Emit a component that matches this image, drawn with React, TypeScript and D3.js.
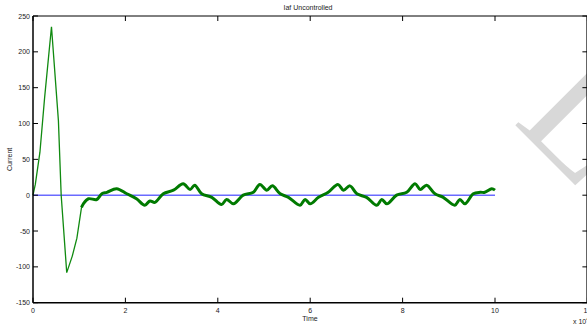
import React from "react";
import * as d3 from "d3";

const times = [0, 0.05, 0.15, 0.25, 0.4, 0.55, 0.61, 0.73, 0.85, 0.95, 1.02, 1.05, 1.09, 1.2, 1.38, 1.49, 1.6, 1.81, 2.03, 2.24, 2.42, 2.53, 2.64, 2.82, 3.04, 3.25, 3.4, 3.5, 3.65, 3.87, 4.08, 4.19, 4.34, 4.55, 4.77, 4.91, 5.06, 5.18, 5.35, 5.53, 5.78, 5.89, 6.0, 6.18, 6.39, 6.6, 6.72, 6.86, 7.01, 7.22, 7.44, 7.55, 7.66, 7.87, 8.09, 8.27, 8.38, 8.52, 8.7, 8.88, 9.13, 9.24, 9.35, 9.53, 9.68, 9.78, 9.93, 10];
const current = [0, 15, 60, 135, 235, 104, 0, -108, -85, -60, -30, -17, -12, -5, -6, 2, 4, 9, 2, -5, -14, -8, -10, 2, 7, 16, 8, 14, 2, -3, -13, -6, -12, 0, 4, 15, 7, 13, 2, -3, -14, -6, -12, -3, 4, 15, 7, 13, 2, -3, -14, -6, -12, 0, 4, 16, 8, 14, 2, -3, -14, -6, -12, 2, 4, 4, 9, 7];
const referenceTimes = [0, 10];
const referenceValues = [0, 0];
const xTicks = [0, 2, 4, 6, 8, 10, 12];
const yTicks = [-150, -100, -50, 0, 50, 100, 150, 200, 250];

const W = 587, H = 328;
const left = 33, right = 587.4, top = 16, bottom = 302.7;

export default function App() {
  const x = d3.scaleLinear().domain([0, 12]).range([left, right]);
  const y = d3.scaleLinear().domain([-150, 250]).range([bottom, top]);
  const pts = times.map((t, i) => [t, current[i]] as [number, number]);
  const transient = pts.filter((p) => p[0] <= 1.09);
  const steady = pts.filter((p) => p[0] >= 1.05);
  const lin = d3.line<[number, number]>().x((d) => x(d[0])).y((d) => y(d[1]));
  const smooth = d3.line<[number, number]>().x((d) => x(d[0])).y((d) => y(d[1])).curve(d3.curveCatmullRom);
  const refLine = lin(referenceTimes.map((t, i) => [t, referenceValues[i]] as [number, number]));
  const font = "'Liberation Sans', Arial, sans-serif";
  return (
    <svg width={W} height={H} style={{ position: "absolute", left: 0, top: 0, background: "#fff" }}>
      <rect x={0} y={0} width={W} height={H} fill="#fff" />
      <text x={512} y={122} transform="rotate(45 512 122)" fontFamily="'Liberation Serif', serif" fontSize={165} fill="#d8d8d8">LI</text>
      <path d={refLine || ""} fill="none" stroke="#6a6aff" strokeWidth={1.6} />
      <path d={lin(transient) || ""} fill="none" stroke="#108a10" strokeWidth={1.3} />
      <path d={smooth(steady) || ""} fill="none" stroke="#007a00" strokeWidth={3} strokeLinejoin="round" />
      <g stroke="#000" strokeWidth={1.5} fill="none">
        <line x1={left} y1={bottom} x2={W} y2={bottom} />
        <line x1={left} y1={top} x2={W} y2={top} strokeWidth={1} />
        <line x1={left} y1={top} x2={left} y2={bottom} />
        <line x1={right - 0.5} y1={top} x2={right - 0.5} y2={bottom} strokeWidth={1} />
      </g>
      <g stroke="#000" strokeWidth={1}>
        {xTicks.map((t) => (
          <g key={"xt" + t}>
            <line x1={x(t)} y1={bottom} x2={x(t)} y2={bottom - 5} />
            <line x1={x(t)} y1={top} x2={x(t)} y2={top + 5} />
          </g>
        ))}
        {yTicks.map((v) => (
          <g key={"yt" + v}>
            <line x1={left} y1={y(v)} x2={left + 5} y2={y(v)} />
            <line x1={right} y1={y(v)} x2={right - 5} y2={y(v)} />
          </g>
        ))}
      </g>
      <g fontFamily={font} fontSize={7} fill="#222">
        {xTicks.map((t) => (
          <text key={"xl" + t} x={x(t)} y={bottom + 10} textAnchor="middle">{t}</text>
        ))}
        {yTicks.map((v) => (
          <text key={"yl" + v} x={left - 3} y={y(v) + 2.5} textAnchor="end">{v}</text>
        ))}
        <text x={310} y={321} textAnchor="middle">Time</text>
        <text x={573} y={324}>x 10<tspan dy={-3} fontSize={5}>4</tspan></text>
        <text x={308} y={10} textAnchor="middle">Iaf Uncontrolled</text>
        <text transform={`translate(12 ${(top + bottom) / 2}) rotate(-90)`} textAnchor="middle">Current</text>
      </g>
    </svg>
  );
}
